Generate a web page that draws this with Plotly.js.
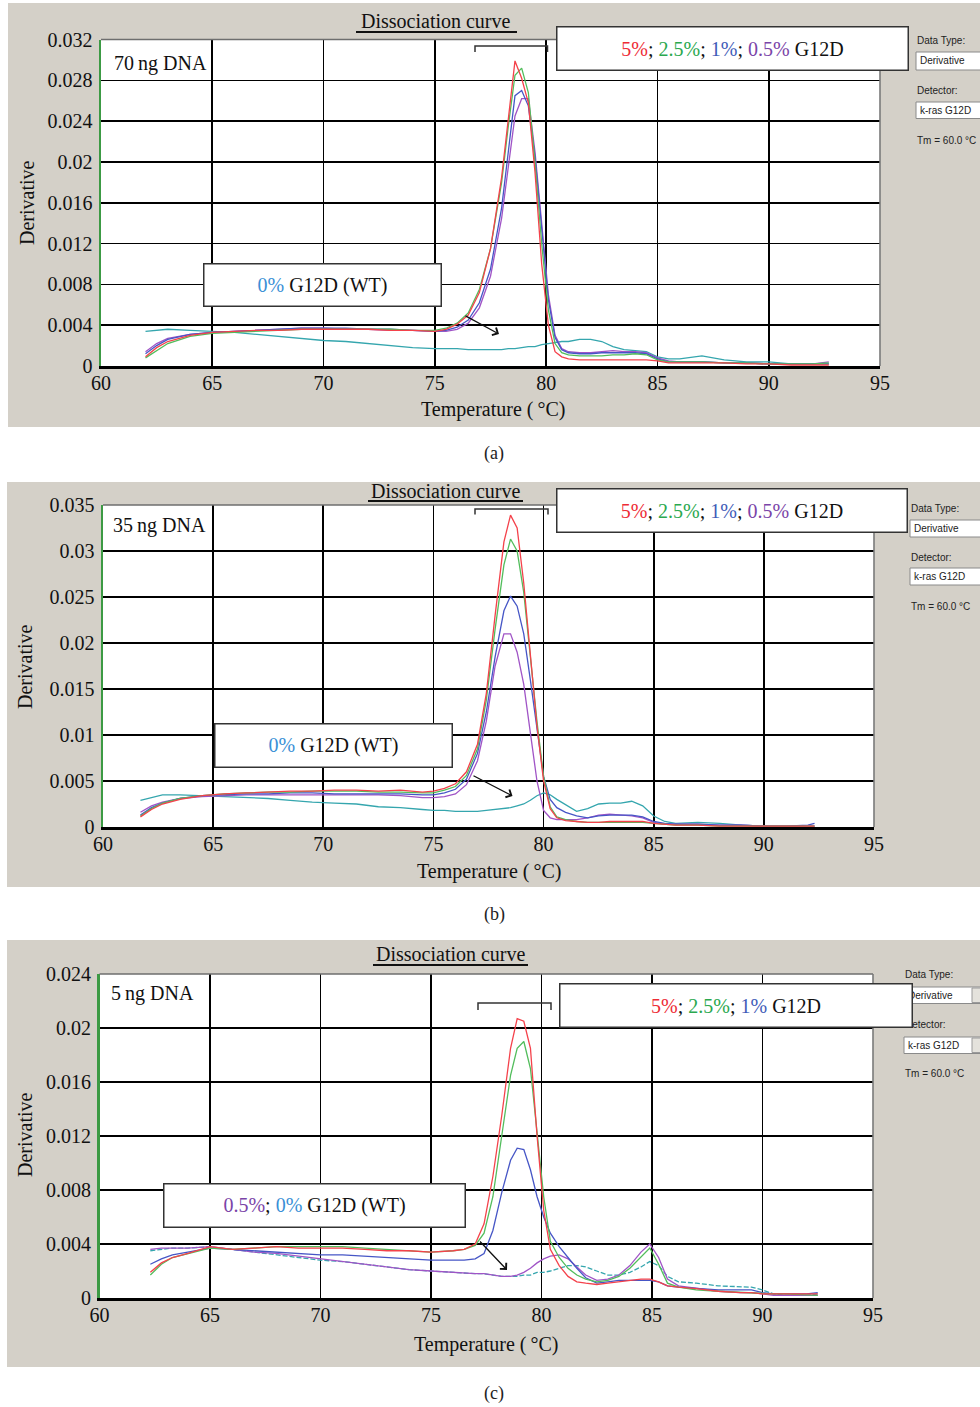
<!DOCTYPE html>
<html>
<head>
<meta charset="utf-8">
<script src="https://cdn.plot.ly/plotly-3.0.1.min.js"></script>
<style>html,body{margin:0;padding:0;background:#fff;}#chart{width:980px;height:1407px;}</style>
</head>
<body>
<div id="chart"></div>
<script>
// ---------- DATA ----------
const xTickVals = [60, 65, 70, 75, 80, 85, 90, 95];
const xTickText = ["60", "65", "70", "75", "80", "85", "90", "95"];

const yTickValsA = [0, 0.004, 0.008, 0.012, 0.016, 0.02, 0.024, 0.028, 0.032];
const yTickTextA = ["0", "0.004", "0.008", "0.012", "0.016", "0.02", "0.024", "0.028", "0.032"];
const yTickValsB = [0, 0.005, 0.01, 0.015, 0.02, 0.025, 0.03, 0.035];
const yTickTextB = ["0", "0.005", "0.01", "0.015", "0.02", "0.025", "0.03", "0.035"];
const yTickValsC = [0, 0.004, 0.008, 0.012, 0.016, 0.02, 0.024];
const yTickTextC = ["0", "0.004", "0.008", "0.012", "0.016", "0.02", "0.024"];

// Panel (a) 70 ng DNA
const tempA = [62, 62.5, 63, 64, 65, 66, 67, 68, 69, 70, 71, 72, 73, 74, 75, 75.5, 76, 76.5, 77, 77.5, 78, 78.3, 78.6, 78.9, 79.2, 79.5, 79.8, 80.1, 80.4, 80.7, 81, 81.5, 82, 82.5, 83, 83.5, 84, 84.5, 85, 85.5, 86, 87, 88, 89, 90, 91, 92, 92.7];
const a5pct  = [0.0009, 0.0018, 0.0024, 0.0030, 0.0033, 0.0034, 0.0035, 0.0035, 0.0036, 0.0036, 0.0036, 0.0036, 0.0035, 0.0035, 0.0034, 0.0036, 0.0041, 0.0050, 0.0072, 0.0115, 0.0185, 0.0245, 0.0299, 0.0282, 0.0258, 0.0190, 0.0100, 0.0040, 0.0014, 0.0009, 0.0007, 0.0006, 0.0006, 0.0006, 0.0006, 0.0006, 0.0006, 0.0006, 0.0005, 0.0003, 0.0003, 0.0003, 0.0003, 0.0002, 0.0002, 0.0001, 0.0001, 0.0001];
const a25pct = [0.0008, 0.0015, 0.0022, 0.0029, 0.0032, 0.0033, 0.0034, 0.0035, 0.0036, 0.0036, 0.0036, 0.0036, 0.0036, 0.0035, 0.0035, 0.0037, 0.0042, 0.0052, 0.0075, 0.0115, 0.0180, 0.0235, 0.0285, 0.0292, 0.0268, 0.0200, 0.0120, 0.0055, 0.0022, 0.0013, 0.0011, 0.0010, 0.0010, 0.0010, 0.0011, 0.0011, 0.0012, 0.0011, 0.0006, 0.0004, 0.0004, 0.0004, 0.0003, 0.0003, 0.0002, 0.0002, 0.0002, 0.0003];
const a1pct  = [0.0012, 0.0020, 0.0026, 0.0031, 0.0033, 0.0034, 0.0035, 0.0036, 0.0037, 0.0037, 0.0037, 0.0036, 0.0036, 0.0035, 0.0034, 0.0035, 0.0038, 0.0045, 0.0062, 0.0095, 0.0155, 0.0210, 0.0265, 0.0270, 0.0255, 0.0205, 0.0135, 0.0065, 0.0028, 0.0016, 0.0013, 0.0012, 0.0012, 0.0013, 0.0013, 0.0013, 0.0013, 0.0012, 0.0007, 0.0004, 0.0004, 0.0004, 0.0003, 0.0003, 0.0002, 0.0002, 0.0002, 0.0002];
const a05pct = [0.0014, 0.0022, 0.0027, 0.0031, 0.0033, 0.0034, 0.0035, 0.0036, 0.0037, 0.0037, 0.0036, 0.0036, 0.0035, 0.0035, 0.0034, 0.0034, 0.0036, 0.0042, 0.0057, 0.0088, 0.0145, 0.0195, 0.0245, 0.0262, 0.0262, 0.0210, 0.0140, 0.0070, 0.0030, 0.0017, 0.0014, 0.0013, 0.0013, 0.0014, 0.0015, 0.0014, 0.0014, 0.0013, 0.0008, 0.0005, 0.0004, 0.0004, 0.0003, 0.0003, 0.0002, 0.0002, 0.0002, 0.0004];
const a0pct  = [0.0034, 0.0035, 0.0036, 0.0035, 0.0034, 0.0033, 0.0031, 0.0029, 0.0027, 0.0025, 0.0024, 0.0022, 0.0020, 0.0018, 0.0017, 0.0017, 0.0017, 0.0016, 0.0016, 0.0016, 0.0016, 0.0017, 0.0017, 0.0018, 0.0019, 0.0019, 0.0021, 0.0022, 0.0023, 0.0024, 0.0024, 0.0026, 0.0026, 0.0024, 0.0019, 0.0016, 0.0015, 0.0014, 0.0009, 0.0007, 0.0007, 0.0010, 0.0006, 0.0004, 0.0004, 0.0002, 0.0002, 0.0002];

// Panel (b) 35 ng DNA
const tempB = [61.7, 62.2, 62.7, 63.5, 64.5, 65.5, 66.5, 67.5, 68.5, 69.5, 70.5, 71.5, 72.5, 73.5, 74.5, 75, 75.5, 76, 76.5, 77, 77.4, 77.8, 78.2, 78.5, 78.8, 79.1, 79.4, 79.7, 80, 80.3, 80.6, 81, 81.5, 82, 82.5, 83, 83.5, 84, 84.5, 85, 85.5, 86, 87, 88, 89, 90, 91, 92, 92.3];
const b5pct  = [0.0011, 0.0019, 0.0025, 0.0030, 0.0034, 0.0036, 0.0037, 0.0038, 0.0039, 0.0039, 0.0040, 0.0040, 0.0039, 0.0040, 0.0038, 0.0039, 0.0042, 0.0047, 0.0060, 0.0090, 0.0145, 0.0230, 0.0310, 0.0339, 0.0325, 0.0265, 0.0185, 0.0110, 0.0050, 0.0020, 0.0010, 0.0007, 0.0006, 0.0005, 0.0005, 0.0006, 0.0006, 0.0006, 0.0006, 0.0004, 0.0003, 0.0002, 0.0002, 0.0001, 0.0001, 0.0001, 0.0001, 0.0001, 0.0001];
const b25pct = [0.0012, 0.0020, 0.0026, 0.0031, 0.0034, 0.0036, 0.0037, 0.0038, 0.0038, 0.0039, 0.0039, 0.0039, 0.0038, 0.0038, 0.0037, 0.0037, 0.0040, 0.0044, 0.0056, 0.0085, 0.0138, 0.0215, 0.0285, 0.0313, 0.0300, 0.0255, 0.0185, 0.0115, 0.0055, 0.0022, 0.0011, 0.0008, 0.0006, 0.0005, 0.0005, 0.0005, 0.0005, 0.0005, 0.0005, 0.0004, 0.0003, 0.0002, 0.0002, 0.0001, 0.0001, 0.0001, 0.0001, 0.0001, 0.0001];
const b1pct  = [0.0013, 0.0021, 0.0026, 0.0031, 0.0034, 0.0035, 0.0036, 0.0036, 0.0037, 0.0037, 0.0036, 0.0036, 0.0036, 0.0036, 0.0035, 0.0035, 0.0037, 0.0041, 0.0052, 0.0080, 0.0125, 0.0185, 0.0235, 0.0251, 0.0240, 0.0210, 0.0160, 0.0105, 0.0055, 0.0030, 0.0021, 0.0016, 0.0012, 0.0010, 0.0012, 0.0013, 0.0013, 0.0013, 0.0011, 0.0006, 0.0004, 0.0003, 0.0003, 0.0002, 0.0002, 0.0001, 0.0001, 0.0002, 0.0004];
const b05pct = [0.0016, 0.0023, 0.0027, 0.0031, 0.0033, 0.0034, 0.0035, 0.0035, 0.0035, 0.0035, 0.0035, 0.0035, 0.0035, 0.0034, 0.0032, 0.0032, 0.0033, 0.0036, 0.0046, 0.0072, 0.0115, 0.0175, 0.0210, 0.0210, 0.0190, 0.0155, 0.0100, 0.0050, 0.0018, 0.0010, 0.0008, 0.0008, 0.0008, 0.0010, 0.0013, 0.0014, 0.0013, 0.0012, 0.0010, 0.0005, 0.0003, 0.0003, 0.0003, 0.0002, 0.0002, 0.0001, 0.0001, 0.0001, 0.0001];
const b0pct  = [0.0029, 0.0032, 0.0035, 0.0035, 0.0034, 0.0033, 0.0032, 0.0031, 0.0029, 0.0027, 0.0026, 0.0025, 0.0022, 0.0021, 0.0019, 0.0018, 0.0018, 0.0017, 0.0017, 0.0017, 0.0018, 0.0019, 0.0020, 0.0021, 0.0023, 0.0025, 0.0029, 0.0034, 0.0037, 0.0035, 0.0030, 0.0024, 0.0017, 0.0020, 0.0025, 0.0026, 0.0026, 0.0028, 0.0023, 0.0012, 0.0006, 0.0004, 0.0005, 0.0004, 0.0002, 0.0001, 0.0001, 0.0001, 0.0001];

// Panel (c) 5 ng DNA
const tempC = [62.3, 62.8, 63.3, 64, 65, 66, 67, 68, 69, 70, 71, 72, 73, 74, 75, 76, 76.5, 77, 77.4, 77.8, 78.2, 78.6, 78.9, 79.2, 79.5, 79.8, 80.1, 80.4, 80.8, 81.2, 81.6, 82, 82.5, 83, 83.5, 84, 84.5, 84.9, 85.3, 85.7, 86.2, 87, 88, 89, 89.5, 90, 90.5, 91, 92, 92.5];
const c5pct  = [0.0019, 0.0026, 0.0030, 0.0033, 0.0038, 0.0036, 0.0037, 0.0038, 0.0037, 0.0037, 0.0037, 0.0036, 0.0035, 0.0035, 0.0034, 0.0035, 0.0036, 0.0040, 0.0055, 0.0090, 0.0135, 0.0185, 0.0207, 0.0205, 0.0185, 0.0120, 0.0065, 0.0036, 0.0024, 0.0016, 0.0012, 0.0011, 0.0010, 0.0011, 0.0012, 0.0013, 0.0014, 0.0014, 0.0012, 0.0009, 0.0008, 0.0007, 0.0005, 0.0004, 0.0004, 0.0003, 0.0003, 0.0003, 0.0003, 0.0003];
const c25pct = [0.0017, 0.0025, 0.0030, 0.0033, 0.0037, 0.0036, 0.0037, 0.0038, 0.0038, 0.0038, 0.0038, 0.0037, 0.0036, 0.0035, 0.0034, 0.0035, 0.0036, 0.0039, 0.0048, 0.0075, 0.0120, 0.0165, 0.0185, 0.0190, 0.0170, 0.0120, 0.0075, 0.0042, 0.0030, 0.0022, 0.0017, 0.0014, 0.0012, 0.0013, 0.0016, 0.0022, 0.0030, 0.0037, 0.0025, 0.0011, 0.0008, 0.0006, 0.0005, 0.0004, 0.0004, 0.0003, 0.0003, 0.0003, 0.0002, 0.0002];
const c1pct  = [0.0025, 0.0029, 0.0032, 0.0034, 0.0037, 0.0036, 0.0035, 0.0034, 0.0033, 0.0032, 0.0032, 0.0031, 0.0030, 0.0029, 0.0028, 0.0028, 0.0028, 0.0029, 0.0033, 0.0050, 0.0078, 0.0102, 0.0111, 0.0110, 0.0095, 0.0075, 0.0060, 0.0048, 0.0038, 0.0030, 0.0022, 0.0015, 0.0011, 0.0012, 0.0013, 0.0013, 0.0013, 0.0013, 0.0012, 0.0009, 0.0008, 0.0007, 0.0006, 0.0006, 0.0006, 0.0004, 0.0003, 0.0003, 0.0003, 0.0004];
const c05pct = [0.0036, 0.0037, 0.0037, 0.0037, 0.0038, 0.0036, 0.0034, 0.0033, 0.0031, 0.0029, 0.0027, 0.0025, 0.0023, 0.0021, 0.0020, 0.0019, 0.0018, 0.0018, 0.0018, 0.0017, 0.0016, 0.0016, 0.0017, 0.0019, 0.0022, 0.0026, 0.0029, 0.0031, 0.0032, 0.0029, 0.0023, 0.0017, 0.0013, 0.0014, 0.0017, 0.0024, 0.0034, 0.0040, 0.0030, 0.0014, 0.0009, 0.0007, 0.0005, 0.0004, 0.0004, 0.0003, 0.0002, 0.0002, 0.0002, 0.0002];
const c0pct  = [0.0035, 0.0036, 0.0037, 0.0037, 0.0038, 0.0036, 0.0034, 0.0032, 0.0030, 0.0028, 0.0027, 0.0025, 0.0023, 0.0021, 0.0020, 0.0019, 0.0018, 0.0018, 0.0018, 0.0017, 0.0016, 0.0016, 0.0016, 0.0017, 0.0017, 0.0019, 0.0019, 0.0020, 0.0022, 0.0024, 0.0024, 0.0023, 0.0020, 0.0017, 0.0017, 0.0019, 0.0023, 0.0027, 0.0024, 0.0016, 0.0012, 0.0011, 0.0009, 0.0008, 0.0008, 0.0006, 0.0003, 0.0002, 0.0002, 0.0003];

// ---------- STYLE ----------
const W = 980, H = 1407;
const X = px => px / W;
const Y = py => 1 - py / H;
const SERIF = "Liberation Serif, Times New Roman, serif";
const NARROW = "Liberation Sans Narrow, Arial Narrow, Liberation Sans, sans-serif";
const COL = {red: "#f4424b", green: "#52bd5c", blue: "#4656c6", purple: "#a054c6", teal: "#35a6ae"};
const GRAY = "#d4d0c8";

function line(x, y, xa, ya, color, dash) {
  return {x: x, y: y, xaxis: xa, yaxis: ya, type: "scatter", mode: "lines",
          line: {color: color, width: 1.3, dash: dash || "solid"}, hoverinfo: "skip", showlegend: false};
}

const traces = [
  line(tempA, a0pct, "x", "y", COL.teal),
  line(tempA, a05pct, "x", "y", COL.purple),
  line(tempA, a1pct, "x", "y", COL.blue),
  line(tempA, a25pct, "x", "y", COL.green),
  line(tempA, a5pct, "x", "y", COL.red),
  line(tempB, b0pct, "x2", "y2", COL.teal),
  line(tempB, b05pct, "x2", "y2", COL.purple),
  line(tempB, b1pct, "x2", "y2", COL.blue),
  line(tempB, b25pct, "x2", "y2", COL.green),
  line(tempB, b5pct, "x2", "y2", COL.red),
  line(tempC, c0pct, "x3", "y3", COL.teal, "5px,2px"),
  line(tempC, c05pct, "x3", "y3", COL.purple),
  line(tempC, c1pct, "x3", "y3", COL.blue),
  line(tempC, c25pct, "x3", "y3", COL.green),
  line(tempC, c5pct, "x3", "y3", COL.red)
];

// plot boxes in px: [left, right, top, bottom]
const boxA = [101, 880, 39.5, 366];
const boxB = [103, 874, 505, 827];
const boxC = [99.5, 873, 974, 1298];

function xax(box, anchor) {
  return {domain: [X(box[0]), X(box[1])], range: [60, 95], anchor: anchor,
    tickvals: xTickVals, ticktext: xTickText, showgrid: true, gridcolor: "#000", gridwidth: 1.6,
    showline: true, linecolor: "#000", linewidth: 2.5, zeroline: false,
    ticks: "", ticklabelstandoff: -3,
    tickfont: {family: SERIF, size: 20, color: "#111"}, fixedrange: true};
}
function yax(box, anchor, maxv, tv, tt) {
  return {domain: [Y(box[3]), Y(box[2])], range: [0, maxv], anchor: anchor,
    tickvals: tv, ticktext: tt, showgrid: true, gridcolor: "#000", gridwidth: 1.6,
    showline: true, linecolor: "#3c9a44", linewidth: 2.5, zeroline: false,
    ticks: "outside", ticklen: 2, tickcolor: "rgba(0,0,0,0)",
    tickfont: {family: SERIF, size: 20, color: "#111"}, fixedrange: true};
}

const shapes = [];
function rect(x0, y0, x1, y1, fill, lineColor, lw, layer) {
  shapes.push({type: "rect", xref: "paper", yref: "paper", x0: X(x0), x1: X(x1), y0: Y(y0), y1: Y(y1),
    fillcolor: fill, line: {color: lineColor || "rgba(0,0,0,0)", width: lw || 0}, layer: layer || "below"});
}
function seg(x0, y0, x1, y1, color, lw) {
  shapes.push({type: "line", xref: "paper", yref: "paper", x0: X(x0), x1: X(x1), y0: Y(y0), y1: Y(y1),
    line: {color: color, width: lw}, layer: "above"});
}
function bracket(x0, x1, yTop, yBot) {
  shapes.push({type: "path", xref: "paper", yref: "paper",
    path: `M ${X(x0)},${Y(yBot)} L ${X(x0)},${Y(yTop)} L ${X(x1)},${Y(yTop)} L ${X(x1)},${Y(yBot)}`,
    line: {color: "#333", width: 1.5}, layer: "above"});
}

// gray panels
rect(8, 3, 980, 427, GRAY);
rect(7, 482, 980, 887, GRAY);
rect(7, 940, 980, 1367, GRAY);
// white plot areas
[boxA, boxB, boxC].forEach(b => rect(b[0], b[2], b[1], b[3], "#fff"));
// top / right borders
[boxA, boxB, boxC].forEach(b => {
  seg(b[0], b[2], b[1], b[2], "#6e6e6e", 1.6);
  seg(b[1], b[2], b[1], b[3], "#7a7a7a", 1.6);
});
// underline of titles
seg(356, 32, 517, 32, "#111", 2);
seg(368, 501, 523, 501, "#111", 2);
seg(373, 965, 528, 965, "#111", 2);
// brackets
bracket(475, 547.5, 46, 52);
bracket(475, 548, 509, 514.5);
bracket(478, 551, 1003, 1010);

// side panel input boxes
function sideBoxes(x0, b1, b2, drop) {
  rect(x0, b1[0], 1000, b1[1], "#fff", "#8a8a8a", 1, "above");
  rect(x0, b2[0], 1000, b2[1], "#fff", "#8a8a8a", 1, "above");
  if (drop) {
    rect(972, b1[0] + 1, 981, b1[1] - 1, "#e4e2dc", "#9a9a9a", 1, "above");
    rect(972, b2[0] + 1, 981, b2[1] - 1, "#e4e2dc", "#9a9a9a", 1, "above");
  }
}
sideBoxes(916, [52, 70], [102, 118.5], false);
sideBoxes(910, [520, 537], [568, 585], false);
sideBoxes(904, [987, 1003.5], [1037, 1053.5], true);

const annotations = [];
function txt(x, y, text, opts) {
  annotations.push(Object.assign({xref: "paper", yref: "paper", x: X(x), y: Y(y), text: text, showarrow: false,
    xanchor: "center", yanchor: "middle", font: {family: SERIF, size: 20, color: "#111"}}, opts || {}));
}
function small(x, y, text) {
  txt(x, y, text, {xanchor: "left", font: {family: NARROW, size: 10, color: "#222"}});
}
// side panel texts
small(915, 40, "Data Type:"); small(918, 61, "Derivative"); small(915, 90, "Detector:"); small(918, 110.5, "k-ras G12D"); small(915, 140, "Tm = 60.0 °C");
small(909, 508, "Data Type:"); small(912, 528.5, "Derivative"); small(909, 557, "Detector:"); small(912, 576.5, "k-ras G12D"); small(909, 606, "Tm = 60.0 °C");
small(903, 974, "Data Type:"); small(906, 995, "Derivative"); small(903, 1024, "Detector:"); small(906, 1045, "k-ras G12D"); small(903, 1073, "Tm = 60.0 °C");

// titles, axis titles, sample labels
txt(436, 21, "Dissociation curve");
txt(446, 491, "Dissociation curve");
txt(451, 954, "Dissociation curve");
txt(27, 203, "Derivative", {textangle: -90});
txt(25, 667, "Derivative", {textangle: -90});
txt(25, 1135, "Derivative", {textangle: -90});
txt(493, 410, "Temperature (\u2009°C)");
txt(489, 871, "Temperature (\u2009°C)");
txt(486, 1344, "Temperature (\u2009°C)");
txt(112, 63, "70\u2009ng DNA", {xanchor: "left"});
txt(111, 525, "35\u2009ng DNA", {xanchor: "left"});
txt(109, 993, "5\u2009ng DNA", {xanchor: "left"});
txt(494, 453, "(a)", {font: {family: SERIF, size: 18, color: "#222"}});
txt(494, 914, "(b)", {font: {family: SERIF, size: 18, color: "#222"}});
txt(494, 1393, "(c)", {font: {family: SERIF, size: 18, color: "#222"}});

// legend boxes
const R = c => `<span style="color:${c}">`;
const cRed = "#ee2b35", cGreen = "#2aa84e", cBlue = "#3f5cb8", cPurple = "#7a44a8", cWT = "#3a8fd6";
const legFull = `${R(cRed)}5%</span>; ${R(cGreen)}2.5%</span>; ${R(cBlue)}1%</span>; ${R(cPurple)}0.5%</span> G12D`;
const legC = `${R(cRed)}5%</span>; ${R(cGreen)}2.5%</span>; ${R(cBlue)}1%</span> G12D`;
const wt = `${R(cWT)}0%</span> G12D (WT)`;
const wtC = `${R(cPurple)}0.5%</span>; ${R(cWT)}0%</span> G12D (WT)`;
function box(cx, cy, w, h, text) {
  txt(cx, cy, text, {bgcolor: "#fff", bordercolor: "#333", borderwidth: 1.5, borderpad: 0, width: w, height: h});
}
box(732.5, 48.3, 350, 42, legFull);
box(322.5, 285, 236, 41, wt);
box(732, 510.5, 349, 42, legFull);
box(333.3, 745, 236, 42, wt);
box(736, 1005.5, 351, 42, legC);
box(314, 1205.5, 300, 42, wtC);

// arrows
function arrow(tx, ty, fx, fy) {
  annotations.push({xref: "paper", yref: "paper", x: X(tx), y: Y(ty), ax: fx - tx, ay: fy - ty, text: "",
    showarrow: true, arrowhead: 4, arrowsize: 1.3, arrowwidth: 1.3, arrowcolor: "#111", standoff: 0, startstandoff: 0});
}
arrow(499, 334, 464, 315);
arrow(512.5, 796, 472, 775);
arrow(507, 1270, 478.6, 1240);

const layout = {
  width: W, height: H, autosize: false,
  margin: {l: 0, r: 0, t: 0, b: 0, pad: 0},
  paper_bgcolor: "#fff", plot_bgcolor: "rgba(0,0,0,0)",
  showlegend: false,
  font: {family: SERIF, color: "#111"},
  xaxis: xax(boxA, "y"), yaxis: yax(boxA, "x", 0.032, yTickValsA, yTickTextA),
  xaxis2: xax(boxB, "y2"), yaxis2: yax(boxB, "x2", 0.035, yTickValsB, yTickTextB),
  xaxis3: xax(boxC, "y3"), yaxis3: yax(boxC, "x3", 0.024, yTickValsC, yTickTextC),
  shapes: shapes, annotations: annotations
};

Plotly.newPlot("chart", traces, layout, {staticPlot: true, displayModeBar: false});
</script>
</body>
</html>
